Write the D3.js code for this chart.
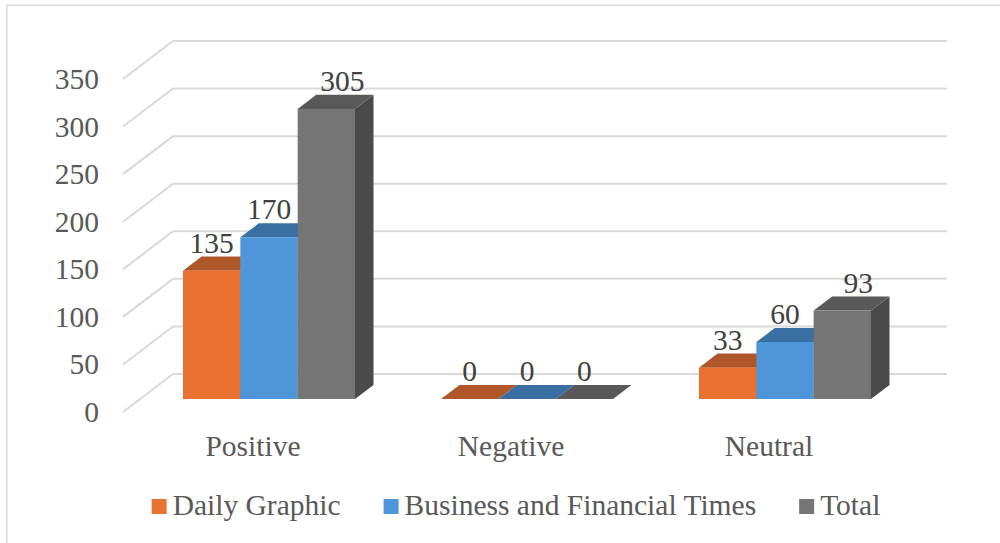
<!DOCTYPE html>
<html>
<head>
<meta charset="utf-8">
<script src="https://cdn.jsdelivr.net/npm/d3@7/dist/d3.min.js"></script>
<style>
  html, body { margin: 0; padding: 0; background: #fff; }
  svg { display: block; }
</style>
</head>
<body>
<svg id="chart" width="1000" height="543"></svg>
<script>
// Data
const categories = ["Positive", "Negative", "Neutral"];
const seriesNames = ["Daily Graphic", "Business and Financial Times", "Total"];
const dailyGraphic = [135, 0, 33];
const businessFinancialTimes = [170, 0, 60];
const total = [305, 0, 93];
const yTicks = [0, 50, 100, 150, 200, 250, 300, 350];

const seriesValues = [dailyGraphic, businessFinancialTimes, total];
const palette = [
  { front: "#E97132", top: "#B0572A", side: "#9C4C22" },
  { front: "#4E95D9", top: "#3A6FA3", side: "#336291" },
  { front: "#757575", top: "#595959", side: "#4A4A4A" }
];

const svg = d3.select("#chart");

// Pick the first installed serif face by comparing measured widths against a monospace fallback
function pickSerif() {
  const candidates = ["Liberation Serif", "Times New Roman", "DejaVu Serif", "Noto Serif", "Tinos"];
  const probe = svg.append("text").attr("font-size", 100).attr("x", -5000).attr("y", -5000)
    .text("Business and Financial Times 0123");
  probe.attr("font-family", "monospace");
  const base = probe.node().getComputedTextLength();
  let found = null;
  for (const c of candidates) {
    probe.attr("font-family", `"${c}", monospace`);
    if (Math.abs(probe.node().getComputedTextLength() - base) > 1) { found = c; break; }
  }
  probe.remove();
  return found ? `"${found}", serif` : "serif";
}
const serif = pickSerif();
svg.attr("font-family", serif);

// Chart frame
svg.append("rect")
  .attr("x", 6.75).attr("y", 5.25)
  .attr("width", 1010).attr("height", 560)
  .attr("fill", "none").attr("stroke", "#D9D9D9").attr("stroke-width", 1.5);

// Oblique 3D projection: front plane x/y plus depth z in [0,1]
const depthDX = 50, depthDY = -38;
const y = d3.scaleLinear().domain([0, 350]).range([412, 79]);
const x = d3.scaleBand().domain(categories).range([123, 897]).paddingInner(0).paddingOuter(0);
const xs = d3.scaleBand().domain(d3.range(seriesNames.length))
  .range([0, x.bandwidth()]).paddingInner(0).paddingOuter(0.75);
const zFront = 0.34, zBack = 0.71;
const proj = (px, v, z) => [px + depthDX * z, y(v) + depthDY * z];
const poly = pts => pts.map(p => p.join(",")).join(" ");

// Gridlines: back wall and left side wall
const [backX0] = proj(x.range()[0], 0, 1);
const [backX1] = proj(x.range()[1], 0, 1);
const grid = svg.append("g").attr("stroke", "#D9D9D9").attr("stroke-width", 2).attr("fill", "none");
yTicks.forEach(t => {
  const b = proj(x.range()[0], t, 1);
  const f = proj(x.range()[0], t, 0);
  grid.append("line").attr("x1", backX0).attr("x2", backX1).attr("y1", b[1]).attr("y2", b[1]);
  grid.append("line").attr("x1", f[0]).attr("y1", f[1]).attr("x2", b[0]).attr("y2", b[1]);
});

// Y axis labels on the front plane
svg.append("g").selectAll("text").data(yTicks).join("text")
  .attr("x", 99).attr("y", d => y(d) + 10)
  .attr("text-anchor", "end")
  .attr("font-size", 29.5).attr("fill", "#595959")
  .text(d => d);

// Bars
const barsG = svg.append("g");
const labelsG = svg.append("g");
categories.forEach((cat, ci) => {
  seriesValues.forEach((vals, si) => {
    const v = vals[ci];
    const x0 = x(cat) + xs(si);
    const x1 = x0 + xs.bandwidth();
    const c = palette[si];
    barsG.append("polygon").attr("fill", c.side)
      .attr("points", poly([proj(x1, 0, zFront), proj(x1, 0, zBack), proj(x1, v, zBack), proj(x1, v, zFront)]));
    barsG.append("polygon").attr("fill", c.top)
      .attr("points", poly([proj(x0, v, zFront), proj(x1, v, zFront), proj(x1, v, zBack), proj(x0, v, zBack)]));
    barsG.append("polygon").attr("fill", c.front)
      .attr("points", poly([proj(x0, 0, zFront), proj(x1, 0, zFront), proj(x1, v, zFront), proj(x0, v, zFront)]));
    const shift = (si === 2 && v > 0) ? 16 : 0;
    labelsG.append("text")
      .attr("x", (x0 + x1) / 2 + depthDX * zFront + shift)
      .attr("y", proj(x0, v, zBack)[1] - 4)
      .attr("text-anchor", "middle")
      .attr("font-size", 29.5).attr("fill", "#404040")
      .text(v);
  });
});

// Category labels
svg.append("g").selectAll("text").data(categories).join("text")
  .attr("x", d => x(d) + x.bandwidth() / 2 + 1)
  .attr("y", 456)
  .attr("text-anchor", "middle")
  .attr("font-size", 29.5).attr("fill", "#595959")
  .text(d => d);

// Legend
const legend = svg.append("g");
const items = seriesNames.map((name, i) => {
  const g = legend.append("g");
  g.append("rect").attr("x", 0).attr("y", 499).attr("width", 15).attr("height", 15).attr("fill", palette[i].front);
  const t = g.append("text").attr("x", 21).attr("y", 515)
    .attr("font-size", 29.5).attr("fill", "#595959").text(name);
  return { g, w: 21 + t.node().getComputedTextLength() };
});
const gap = 43;
const totalW = d3.sum(items, d => d.w) + gap * (items.length - 1);
let cx = 516 - totalW / 2;
items.forEach(it => { it.g.attr("transform", `translate(${cx},0)`); cx += it.w + gap; });
</script>
</body>
</html>
